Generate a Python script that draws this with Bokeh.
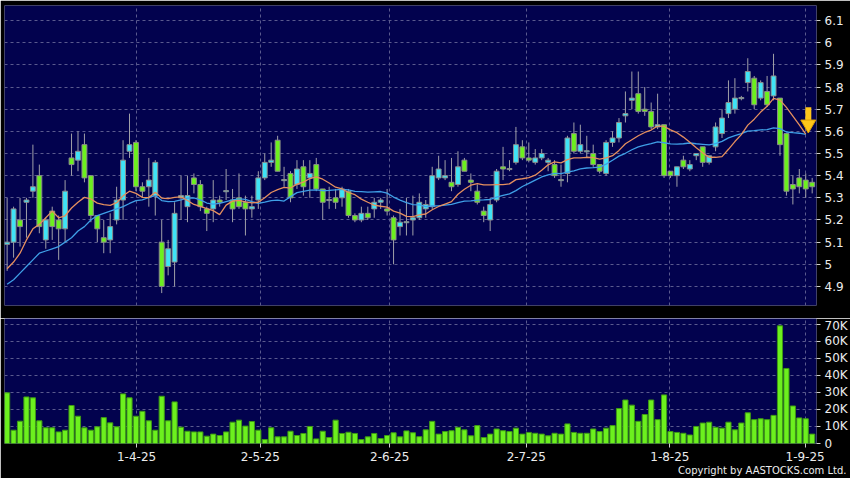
import pandas as pd
from bokeh.plotting import figure
from bokeh.layouts import column
from bokeh.models import Range1d, FixedTicker, LinearAxis, ColumnDataSource
from bokeh.embed import file_html
from bokeh.resources import INLINE

# ---- data (index 0 = first trading day shown, 126 sessions) ----
opens = [5.09, 5.10, 5.20, 5.28, 5.33, 5.40, 5.11, 5.24, 5.20, 5.16,
         5.48, 5.47, 5.54, 5.40, 5.22, 5.12, 5.11, 5.20, 5.29, 5.51,
         5.55, 5.35, 5.35, 5.31, 5.10, 4.99, 5.01, 5.30, 5.26, 5.39,
         5.36, 5.25, 5.25, 5.29, 5.33, 5.29, 5.30, 5.28, 5.25, 5.29,
         5.39, 5.46, 5.56, 5.38, 5.41, 5.36, 5.44, 5.39, 5.45, 5.34,
         5.29, 5.30, 5.30, 5.33, 5.22, 5.20, 5.23, 5.25, 5.28, 5.25, 5.21,
         5.17, 5.19, 5.20, 5.21, 5.25, 5.26, 5.39, 5.39, 5.37, 5.36,
         5.47, 5.38, 5.33, 5.24, 5.20, 5.29, 5.44, 5.43, 5.46, 5.53,
         5.48, 5.46, 5.48, 5.46, 5.45, 5.38, 5.41, 5.59, 5.51, 5.51,
         5.50, 5.45, 5.41, 5.55, 5.57, 5.67, 5.74, 5.77, 5.70, 5.69,
         5.62, 5.63, 5.42, 5.40, 5.47, 5.43, 5.49, 5.53, 5.46, 5.53,
         5.59, 5.68, 5.70, 5.75, 5.82, 5.84, 5.75, 5.78, 5.76, 5.75,
         5.59, 5.36, 5.39, 5.38, 5.37]
highs = [5.30, 5.26, 5.30, 5.30, 5.54, 5.45, 5.21, 5.26, 5.22, 5.38,
         5.59, 5.60, 5.59, 5.40, 5.22, 5.20, 5.23, 5.35, 5.56, 5.68,
         5.56, 5.37, 5.48, 5.47, 5.20, 5.11, 5.28, 5.40, 5.40, 5.41,
         5.38, 5.26, 5.38, 5.31, 5.43, 5.34, 5.41, 5.31, 5.31, 5.42,
         5.50, 5.55, 5.58, 5.44, 5.42, 5.47, 5.47, 5.47, 5.48, 5.34,
         5.35, 5.34, 5.35, 5.34, 5.23, 5.26, 5.26, 5.30, 5.30, 5.34, 5.22,
         5.25, 5.30, 5.31, 5.32, 5.29, 5.44, 5.49, 5.47, 5.48, 5.51,
         5.48, 5.41, 5.36, 5.26, 5.30, 5.43, 5.53, 5.47, 5.62, 5.56,
         5.55, 5.52, 5.52, 5.48, 5.47, 5.45, 5.58, 5.64, 5.63, 5.58,
         5.54, 5.45, 5.56, 5.60, 5.66, 5.78, 5.87, 5.87, 5.80, 5.73,
         5.77, 5.63, 5.42, 5.44, 5.49, 5.47, 5.50, 5.53, 5.49, 5.64,
         5.70, 5.83, 5.84, 5.76, 5.93, 5.85, 5.83, 5.85, 5.95, 5.75,
         5.59, 5.40, 5.43, 5.41, 5.39]
lows = [4.97, 5.03, 5.08, 5.12, 5.30, 5.14, 5.07, 5.11, 5.02, 5.10,
        5.40, 5.42, 5.37, 5.19, 5.10, 5.05, 5.05, 5.18, 5.20, 5.48,
        5.33, 5.30, 5.26, 5.22, 4.87, 4.95, 4.90, 5.20, 5.19, 5.32,
        5.24, 5.15, 5.19, 5.26, 5.29, 5.19, 5.25, 5.13, 5.21, 5.25,
        5.38, 5.44, 5.42, 5.35, 5.28, 5.34, 5.31, 5.30, 5.33, 5.20,
        5.25, 5.25, 5.26, 5.21, 5.19, 5.19, 5.20, 5.21, 5.25, 5.22, 5.00,
        5.13, 5.13, 5.13, 5.20, 5.21, 5.25, 5.38, 5.38, 5.33, 5.35,
        5.42, 5.33, 5.27, 5.19, 5.15, 5.28, 5.38, 5.42, 5.45, 5.47,
        5.46, 5.45, 5.47, 5.42, 5.39, 5.35, 5.37, 5.50, 5.50, 5.48,
        5.44, 5.41, 5.40, 5.53, 5.55, 5.64, 5.70, 5.68, 5.67, 5.61,
        5.61, 5.39, 5.39, 5.35, 5.43, 5.42, 5.47, 5.44, 5.45, 5.51,
        5.57, 5.66, 5.68, 5.74, 5.78, 5.70, 5.74, 5.71, 5.74, 5.49,
        5.31, 5.27, 5.32, 5.30, 5.32]
closes = [5.10, 5.25, 5.17, 5.29, 5.35, 5.17, 5.20, 5.17, 5.16, 5.33,
          5.45, 5.51, 5.39, 5.22, 5.16, 5.10, 5.17, 5.29, 5.47, 5.54,
          5.35, 5.33, 5.38, 5.46, 4.90, 5.07, 5.23, 5.31, 5.31, 5.36,
          5.26, 5.23, 5.29, 5.28, 5.33, 5.25, 5.26, 5.25, 5.26, 5.39,
          5.46, 5.47, 5.42, 5.38, 5.30, 5.43, 5.35, 5.41, 5.34, 5.28,
          5.29, 5.28, 5.34, 5.22, 5.20, 5.23, 5.21, 5.28, 5.29, 5.24, 5.11,
          5.19, 5.19, 5.21, 5.28, 5.27, 5.40, 5.43, 5.40, 5.35, 5.44,
          5.42, 5.37, 5.28, 5.22, 5.27, 5.42, 5.43, 5.43, 5.54, 5.48,
          5.47, 5.48, 5.50, 5.47, 5.40, 5.38, 5.57, 5.51, 5.54, 5.51,
          5.45, 5.42, 5.55, 5.57, 5.64, 5.68, 5.75, 5.69, 5.69, 5.62,
          5.63, 5.40, 5.40, 5.44, 5.44, 5.45, 5.50, 5.46, 5.49, 5.62,
          5.66, 5.73, 5.75, 5.75, 5.87, 5.72, 5.82, 5.72, 5.85, 5.54,
          5.33, 5.34, 5.35, 5.34, 5.35]
volumes_k = [29.7, 7.8, 13.1, 27.3, 26.8, 13.3, 9.2, 9.2, 6.8, 7.8,
             22.3, 16.0, 9.2, 7.8, 9.8, 15.2, 12.1, 9.8, 29.1, 26.8,
             16.0, 18.9, 13.3, 7.8, 27.7, 13.3, 24.4, 9.6, 7.2, 6.8,
             6.8, 4.3, 5.5, 4.7, 6.8, 12.5, 13.7, 10.2, 12.9, 7.8,
             2.3, 9.2, 3.9, 3.9, 7.2, 4.7, 5.9, 10.0, 2.7, 7.2,
             3.5, 13.7, 5.9, 6.6, 5.9, 2.3, 3.9, 5.9, 2.9, 4.7,
             6.3, 3.9, 7.4, 6.3,
             4.0, 8.0, 13.0, 5.5, 7.0, 7.5, 9.5, 8.0, 4.5, 10.5,
             3.5, 5.5, 8.5, 7.5, 7.0, 9.0, 5.5, 6.5, 6.0, 5.5,
             4.5, 6.0, 5.5, 11.5, 6.5, 6.0, 6.0, 8.5, 7.0, 9.0,
             10.5, 20.5, 25.5, 22.5, 13.0, 17.0, 25.5, 14.0, 28.5, 7.0,
             6.5, 6.0, 5.0, 10.0, 12.0, 12.5, 9.5, 9.0, 12.5, 8.0,
             12.0, 18.0, 14.0, 14.5, 14.0, 16.5, 69.0, 44.0, 22.0, 15.0,
             14.5, 5.5]
ma10_head = [4.98, 5.01, 5.05, 5.11, 5.16, 5.18, 5.21, 5.24, 5.21]
ma20_head = [4.91, 4.93, 4.96, 4.99, 5.02, 5.05, 5.06, 5.07, 5.08, 5.10,
             5.12, 5.15, 5.17, 5.20, 5.22, 5.23, 5.24, 5.25, 5.26]

price_ticks = [4.9, 5.0, 5.1, 5.2, 5.3, 5.4, 5.5, 5.6, 5.7, 5.8, 5.9, 6.0, 6.1]
price_labels = ["4.9", "5", "5.1", "5.2", "5.3", "5.4", "5.5", "5.6", "5.7", "5.8", "5.9", "6", "6.1"]
vol_ticks = [0, 10, 20, 30, 40, 50, 60, 70]
vol_labels = ["0", "10K", "20K", "30K", "40K", "50K", "60K", "70K"]
date_ticks = [20.1, 39.3, 59.4, 80.6, 102.9, 123.9]
date_labels = ["1-4-25", "2-5-25", "2-6-25", "2-7-25", "1-8-25", "1-9-25"]
copyright_text = "Copyright by AASTOCKS.com Ltd."

# ---- styling ----
NAVY = "#02024e"
GRIDC = "#5a5a8e"
CYAN = "#3fe3f6"
GREEN = "#6cf01e"
WICK = "#a0a0a8"
ORANGE = "#e58f5e"
BLUE = "#3f9fe6"
ARROW = "#ffc61a"
TXT = "#ececec"
FONT = "DejaVu Sans"

n = len(closes)
idx = list(range(n))
colors = [CYAN if c >= o else GREEN for o, c in zip(opens, closes)]
bt, bb = [], []
for o, c in zip(opens, closes):
    t, b = max(o, c), min(o, c)
    if t - b < 0.005:
        m = (t + b) / 2
        t, b = m + 0.0025, m - 0.0025
    bt.append(t)
    bb.append(b)

s = pd.Series(closes)
ma10 = s.rolling(10).mean().tolist()
ma20 = s.rolling(20).mean().tolist()
ma10[:len(ma10_head)] = ma10_head
ma20[:len(ma20_head)] = ma20_head
# averages are drawn through the previous session (last bar not yet included)
ma_x = idx[:-1]
ma10 = ma10[:-1]
ma20 = ma20[:-1]

src = ColumnDataSource(dict(x=idx, o=opens, h=highs, l=lows, c=closes,
                            bt=bt, bb=bb, color=colors, vol=volumes_k))

xr = Range1d(-0.41, n - 0.33)

p1 = figure(width=850, height=318, x_range=xr, y_range=Range1d(4.814, 6.168),
            output_backend="svg", toolbar_location=None, x_axis_location=None,
            y_axis_location="right", background_fill_color=NAVY,
            border_fill_color="black", outline_line_color=None,
            min_border_left=4, min_border_right=32, min_border_top=5, min_border_bottom=13)
p1.yaxis.ticker = FixedTicker(ticks=price_ticks)
p1.yaxis.major_label_overrides = dict(zip(price_ticks, price_labels))
p1.xgrid.ticker = FixedTicker(ticks=date_ticks)

p1.segment(x0="x", y0="l", x1="x", y1="h", source=src, line_color=WICK, line_width=1)
p1.vbar(x="x", width=0.76, top="bt", bottom="bb", source=src,
        fill_color="color", line_color="#8c8c8c", line_width=1)
p1.line(ma_x, ma20, line_color=BLUE, line_width=1.3)
p1.line(ma_x, ma10, line_color=ORANGE, line_width=1.3)

# down-arrow marker pointing at the end of the averages
ax = n - 1.6
tip = ma20[-1]
p1.segment(x0=[ax], y0=[tip + 0.122], x1=[ax], y1=[tip + 0.06],
           line_color=ARROW, line_width=6)
p1.scatter(x=[ax], y=[tip + 0.045], marker="inverted_triangle", size=15,
           fill_color=ARROW, line_color="#e0a000", line_width=1)

p2 = figure(width=850, height=160, x_range=xr, y_range=Range1d(0, 73.3),
            output_backend="svg", toolbar_location=None, y_axis_location="right",
            background_fill_color=NAVY, border_fill_color="black", outline_line_color=None,
            min_border_left=4, min_border_right=32, min_border_top=0, min_border_bottom=0)
p2.vbar(x="x", width=0.8, top="vol", bottom=0, source=src,
        fill_color=GREEN, line_color="#3e9a14", line_width=1)
p2.yaxis.ticker = FixedTicker(ticks=vol_ticks)
p2.yaxis.major_label_overrides = dict(zip(vol_ticks, vol_labels))
p2.xaxis.ticker = FixedTicker(ticks=date_ticks)
p2.xaxis.major_label_overrides = dict(zip(date_ticks, date_labels))

for p in (p1, p2):
    for g in p.grid:
        g.grid_line_color = GRIDC
        g.grid_line_dash = "3 3"
        g.grid_line_width = 1
    for a in p.axis:
        a.axis_line_color = None
        a.major_tick_line_color = "#cfcfcf"
        a.major_tick_in = 0
        a.major_tick_out = 4
        a.minor_tick_line_color = None
        a.major_label_text_color = TXT
        a.major_label_text_font = FONT
        a.major_label_text_font_size = "12px"
        a.major_label_standoff = 4

# copyright line at the bottom right (drawn as the single label of a bare axis)
cp_pos = n - 7.5
p2.add_layout(LinearAxis(ticker=FixedTicker(ticks=[cp_pos]),
                         major_label_overrides={cp_pos: copyright_text},
                         axis_line_color=None, major_tick_line_color=None,
                         major_tick_in=0, major_tick_out=0,
                         minor_tick_line_color=None, minor_tick_in=0, minor_tick_out=0,
                         major_label_standoff=1,
                         major_label_text_color=TXT, major_label_text_font=FONT,
                         major_label_text_font_size="10px"), "below")

layout = column(p1, p2, spacing=0)
open("out.html", "w").write(file_html(layout, INLINE))
